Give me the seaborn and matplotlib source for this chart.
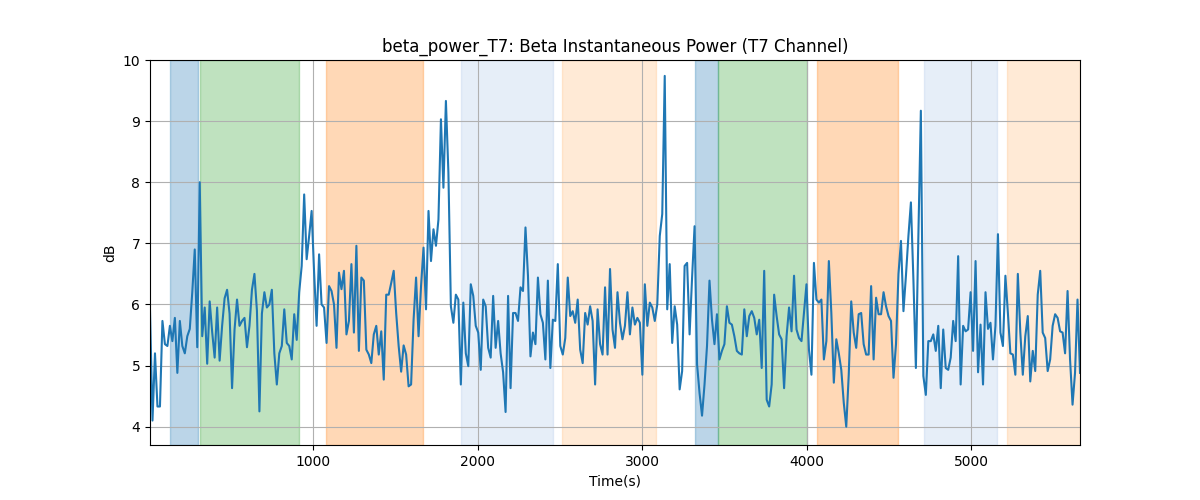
import numpy as np
import pandas as pd
import seaborn as sns
import matplotlib
matplotlib.use("Agg")
import matplotlib.pyplot as plt

power_db = [
    5.9, 4.1, 5.2, 4.33, 4.33, 5.73, 5.35, 5.32, 5.65, 5.4, 5.78, 4.88, 5.73, 5.32, 5.2, 5.48,
    5.6, 6.2, 6.9, 5.3, 8.0, 5.48, 5.95, 5.03, 6.05, 5.55, 5.13, 5.95, 5.08, 5.65, 6.1, 6.24,
    5.85, 4.63, 5.59, 6.08, 5.65, 5.73, 5.78, 5.3, 5.65, 6.24, 6.5, 5.9, 4.25, 5.85,
    6.2, 5.95, 6.0, 6.24, 5.2, 4.69, 5.2, 5.32, 5.92, 5.37, 5.32, 5.1, 5.84, 5.42, 6.2, 6.63,
    7.8, 6.74, 7.12, 7.53, 6.52, 5.65, 6.82, 6.0, 5.95, 5.37, 6.3, 6.22, 6.0, 5.29, 6.52, 6.25,
    6.55, 5.51, 5.73, 6.66, 5.54, 6.96, 5.24, 6.44, 6.39, 5.26, 5.18, 5.04, 5.51, 5.65, 5.18,
    5.56, 4.77,
    6.16, 6.16, 6.35, 6.55, 5.86, 5.32, 4.9, 5.33, 5.18, 4.66, 4.69, 5.75, 6.44, 5.48, 6.3, 6.93,
    5.92, 7.53, 6.71, 7.23, 6.96, 7.39, 9.03, 7.91, 9.33, 8.16, 5.97, 5.7, 6.16, 6.08, 4.69, 6.03,
    5.2, 4.99, 6.33, 6.14, 5.65, 5.54, 4.93, 6.08, 5.97, 5.29, 5.13, 6.14, 5.29, 5.73, 5.2,
    4.89, 4.24, 6.14, 4.63, 5.86, 5.86, 5.73, 6.28, 6.22, 7.26, 6.47, 5.15, 5.54, 5.35, 6.44, 5.84,
    5.7, 5.1, 6.39, 4.96, 5.75, 5.73, 6.66, 5.32, 5.18, 5.45, 6.44, 5.81, 5.89, 5.7, 6.08, 5.26,
    5.04, 5.86, 5.67, 5.97, 5.73, 4.69, 5.92, 5.35, 5.18, 6.28, 5.18, 6.58, 5.59, 5.29, 6.2,
    5.7, 5.43, 5.65, 6.2, 5.51, 5.95, 5.67, 5.78, 5.7, 4.85, 6.33, 5.65, 6.03, 5.95, 5.73, 6.0,
    7.12, 7.48, 9.74, 5.92, 6.66, 5.37, 5.97, 5.67, 4.61, 4.91, 6.63, 6.68, 5.51, 6.44, 7.28, 5.02,
    4.55, 4.18, 4.69, 5.32, 6.39, 5.75, 5.35, 5.84, 5.1, 5.24, 5.35, 5.97, 5.7, 5.67, 5.48, 5.24,
    5.2, 5.18, 5.92, 5.48, 5.81, 5.89, 5.78, 5.51, 5.75, 4.96, 6.55, 4.44, 4.33, 4.69, 6.16, 5.81,
    5.51, 5.43, 4.63, 5.48, 5.95, 5.56, 6.47, 5.59, 5.45, 5.4, 5.86, 6.33, 5.26, 4.85, 6.68, 6.08,
    6.03, 6.08, 5.1, 5.4, 6.71, 5.86, 4.72, 5.43, 5.2, 4.93, 4.39, 4.0, 4.85, 6.05, 5.54,
    5.29, 5.84, 5.86, 5.35, 5.18, 5.18, 6.3, 5.1, 6.11, 5.84, 5.84, 6.2, 5.97, 5.81, 5.73, 4.8,
    5.35, 6.5, 7.04, 5.89, 6.47, 7.12, 7.67, 6.41, 4.96, 7.12, 9.17, 4.83, 4.52, 5.4, 5.4, 5.51,
    5.24, 5.65, 4.63, 5.59, 4.96, 4.93, 5.13, 5.73, 5.4, 6.79, 4.69, 5.65, 5.56, 5.59,
    6.2, 5.24, 6.71, 4.89, 5.67, 4.69, 6.2, 5.6, 5.7, 5.1, 5.65, 7.15, 5.54, 5.32, 6.47, 5.86,
    5.2, 5.18, 4.85, 6.5, 5.54, 4.85, 5.48, 5.81, 4.74, 5.24, 4.91, 6.16, 6.55, 5.54, 5.45, 4.91,
    5.1, 5.65, 5.84, 5.78, 5.56, 5.54, 5.2, 6.22, 5.1, 4.36, 4.88, 6.08, 4.88,
]
t_start, t_end = 8, 5662

# shaded task/condition periods
span_start = [131, 313, 1079, 1900, 2514, 3322, 3462, 4064, 4714, 5219]
span_end = [300, 915, 1669, 2459, 3085, 3462, 4003, 4556, 5158, 5663]
span_color = ["#1f77b4", "#2ca02c", "#ff7f0e", "#aec7e8", "#ffbb78",
              "#1f77b4", "#2ca02c", "#ff7f0e", "#aec7e8", "#ffbb78"]

df = pd.DataFrame({
    "time": np.linspace(t_start, t_end, len(power_db)),
    "power": power_db,
})

fig, ax = plt.subplots(figsize=(12, 5), dpi=100)

for s, e, c in zip(span_start, span_end, span_color):
    ax.axvspan(s, e, color=c, alpha=0.3, linewidth=1)

sns.lineplot(data=df, x="time", y="power", ax=ax, color="#1f77b4", linewidth=1.5)

ax.grid(True)
ax.set_xlim(df["time"].min(), df["time"].max())
ax.set_ylim(3.7, 10)
ax.set_title("beta_power_T7: Beta Instantaneous Power (T7 Channel)")
ax.set_xlabel("Time(s)")
ax.set_ylabel("dB")

plt.savefig("out.png")
plt.close()
